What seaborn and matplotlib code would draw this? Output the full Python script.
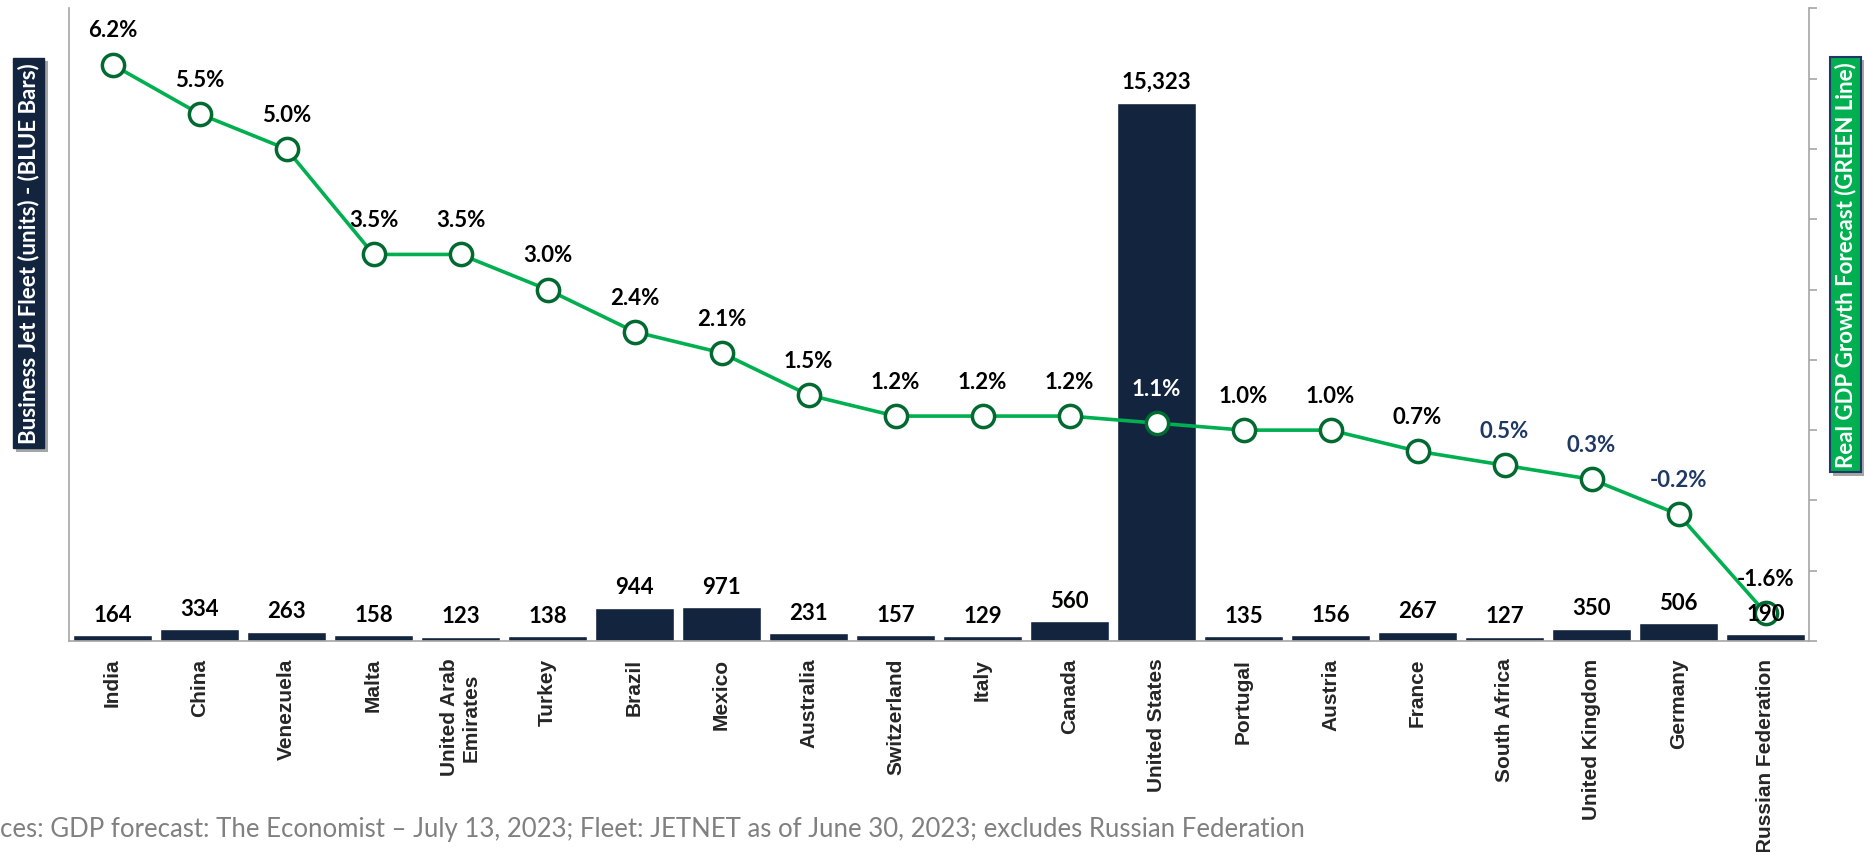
import numpy as np
import pandas as pd
import seaborn as sns
from matplotlib import pyplot as plt
from matplotlib import patheffects

countries = ["India", "China", "Venezuela", "Malta", "United Arab\nEmirates", "Turkey",
             "Brazil", "Mexico", "Australia", "Switzerland", "Italy", "Canada",
             "United States", "Portugal", "Austria", "France", "South Africa",
             "United Kingdom", "Germany", "Russian Federation"]
fleet = [164, 334, 263, 158, 123, 138, 944, 971, 231, 157, 129, 560,
         15323, 135, 156, 267, 127, 350, 506, 190]
gdp = [6.2, 5.5, 5.0, 3.5, 3.5, 3.0, 2.4, 2.1, 1.5, 1.2, 1.2, 1.2,
       1.1, 1.0, 1.0, 0.7, 0.5, 0.3, -0.2, -1.6]

NAVY = "#13243f"
GREEN = "#00b050"
DARK_GREEN = "#006a30"
GRAY = "#a6a6a6"

sns.set_style("white")
plt.rcParams["font.family"] = ["Lato", "DejaVu Sans"]

df = pd.DataFrame({"country": countries, "fleet": fleet, "gdp": gdp})
df["pos"] = np.arange(len(df))

fig = plt.figure(figsize=(18.65, 8.53), dpi=100)
ax = fig.add_axes([0.037, 0.2474, 0.933, 0.7415])

sns.barplot(data=df, x="country", y="fleet", color=NAVY, saturation=1,
            width=0.9, ax=ax)
ax.set_ylim(0, 18000)
ax.set_xlim(-0.5, len(df) - 0.5)
ax.set_yticks([])
ax.set_xlabel("")
ax.set_ylabel("")

ax.tick_params(axis="x", length=0, pad=12)
for lab in ax.get_xticklabels():
    lab.set_rotation(90)
    lab.set_ha("center")
    lab.set_va("top")
    lab.set_family(["Liberation Sans"])
    lab.set_fontweight("bold")
    lab.set_fontsize(15)

for side in ["top", "right"]:
    ax.spines[side].set_visible(False)
for side in ["left", "bottom"]:
    ax.spines[side].set_color(GRAY)
    ax.spines[side].set_linewidth(1.2)

# GDP line on the secondary axis
ax2 = ax.twinx()
sns.lineplot(data=df, x="pos", y="gdp", ax=ax2, color=GREEN, linewidth=2.6,
             marker="o", markersize=16, markerfacecolor="white",
             markeredgecolor=DARK_GREEN, markeredgewidth=2.5)
ax2.set_ylim(-2, 7)
ax2.set_yticks(range(-2, 8))
ax2.set_yticklabels([])
ax2.set_xlabel("")
ax2.set_ylabel("")
ax2.tick_params(axis="y", direction="out", length=6, width=1.2, color=GRAY, right=True)
for side in ["top", "left", "bottom"]:
    ax2.spines[side].set_visible(False)
ax2.spines["right"].set_color(GRAY)
ax2.spines["right"].set_linewidth(1.2)

# bar values (drawn on the top axes so they sit over the line markers)
for i, v in enumerate(fleet):
    ax2.annotate(f"{v:,}", (i, v), xycoords=ax.transData, xytext=(0, 15),
                 textcoords="offset points", ha="center", va="center",
                 fontsize=16, fontweight="bold", color="black")

label_colors = {"United States": "white", "South Africa": "#1f3864",
                "United Kingdom": "#1f3864", "Germany": "#1f3864"}
for i, (c, g) in enumerate(zip(countries, gdp)):
    ax2.annotate(f"{g:.1f}%", (i, g), xytext=(0, 25), textcoords="offset points",
                 ha="center", va="center", fontsize=16, fontweight="bold",
                 color=label_colors.get(c, "black"))

# axis title boxes
shadow = [patheffects.withSimplePatchShadow(offset=(2.5, -2.5), shadow_rgbFace="black", alpha=0.35)]
t1 = fig.text(0.0153, 0.7025, "Business Jet Fleet (units) - (BLUE Bars)", rotation=90,
              ha="center", va="center", fontsize=16, fontweight="bold", color="white",
              bbox=dict(boxstyle="square,pad=0.22", fc=NAVY, ec=NAVY))
t1.get_bbox_patch().set_path_effects(shadow)
t2 = fig.text(0.9895, 0.689, "Real GDP Growth Forecast (GREEN Line)", rotation=90,
              ha="center", va="center", fontsize=16, fontweight="bold", color="white",
              bbox=dict(boxstyle="square,pad=0.22", fc=GREEN, ec="#1f3864", lw=1.5))
t2.get_bbox_patch().set_path_effects(shadow)

fig.text(0.0, 0.028, "ces: GDP forecast: The Economist \u2013 July 13, 2023; Fleet: JETNET as of June 30, 2023; excludes Russian Federation",
         ha="left", va="center", fontsize=18.5, color="#808080")

fig.savefig("out.png", dpi=100)
